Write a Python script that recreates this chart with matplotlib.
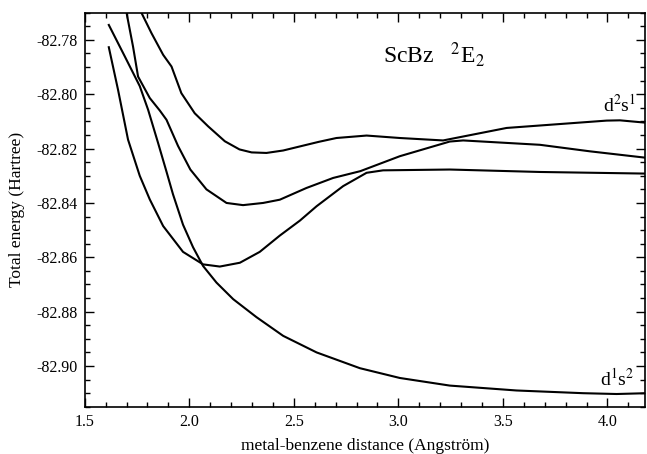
import matplotlib
matplotlib.use("Agg")
import matplotlib.pyplot as plt
from matplotlib.ticker import MultipleLocator, FormatStrFormatter

plt.rcParams['font.family'] = ['Liberation Serif', 'DejaVu Serif']
plt.rcParams['mathtext.fontset'] = 'stix'

# curve with the -82.863 minimum
p_x = [1.615, 1.659, 1.707, 1.763, 1.811, 1.875, 1.970, 2.066, 2.146, 2.242, 2.337,
       2.433, 2.529, 2.609, 2.736, 2.848, 2.927, 3.246, 3.677, 4.188]
p_y = [-82.7827, -82.7983, -82.8167, -82.830, -82.8387, -82.8485, -82.858, -82.8626,
       -82.8634, -82.862, -82.858, -82.852, -82.8465, -82.8412, -82.8338, -82.8289,
       -82.828, -82.8277, -82.8286, -82.8292]

# d1s2 curve (lowest at large distance)
q_x = [1.615, 1.691, 1.763, 1.803, 1.851, 1.891, 1.922, 1.970, 2.018, 2.066, 2.13,
       2.21, 2.321, 2.449, 2.609, 2.816, 3.007, 3.246, 3.565, 3.884, 4.044, 4.188]
q_y = [-82.7745, -82.786, -82.797, -82.8057, -82.818, -82.8285, -82.8368, -82.848,
       -82.8563, -82.8632, -82.8693, -82.8754, -82.882, -82.8889, -82.895, -82.9008,
       -82.9044, -82.9072, -82.909, -82.910, -82.9103, -82.910]

# curve with the -82.841 minimum
r_x = [1.697, 1.702, 1.731, 1.755, 1.811, 1.859, 1.891, 1.946, 2.005, 2.082, 2.178,
       2.257, 2.353, 2.433, 2.560, 2.688, 2.818, 3.007, 3.246, 3.31, 3.677, 3.916, 4.188]
r_y = [-82.768, -82.7709, -82.7825, -82.7935, -82.8014, -82.806, -82.8094, -82.819,
       -82.8277, -82.835, -82.840, -82.8408, -82.840, -82.8388, -82.8345, -82.8308,
       -82.8283, -82.8228, -82.8174, -82.817, -82.8186, -82.821, -82.8234]

# d2s1 curve
s_x = [1.768, 1.771, 1.819, 1.875, 1.915, 1.962, 2.026, 2.09, 2.17, 2.24, 2.298, 2.369,
       2.449, 2.529, 2.620, 2.704, 2.848, 3.007, 3.214, 3.518, 3.996, 4.06, 4.188]
s_y = [-82.769, -82.770, -82.7775, -82.7855, -82.7898, -82.7996, -82.807, -82.8118,
       -82.8173, -82.8203, -82.8214, -82.8216, -82.8207, -82.8192, -82.8175, -82.8161,
       -82.8152, -82.8161, -82.817, -82.8124, -82.8097, -82.8096, -82.8105]

fig = plt.figure(figsize=(6.47, 4.54), dpi=100)
ax = fig.add_axes([0.131, 0.104, 0.866, 0.868])

for xs, ys in [(p_x, p_y), (q_x, q_y), (r_x, r_y), (s_x, s_y)]:
    ax.plot(xs, ys, color='black', linewidth=1.5, solid_joinstyle='round')

ax.set_xlim(1.5, 4.18)
ax.set_ylim(-82.915, -82.770)

ax.xaxis.set_major_locator(MultipleLocator(0.5))
ax.xaxis.set_minor_locator(MultipleLocator(0.1))
ax.yaxis.set_major_locator(MultipleLocator(0.02))
ax.yaxis.set_minor_locator(MultipleLocator(0.005))
ax.xaxis.set_major_formatter(FormatStrFormatter('%.1f'))
ax.yaxis.set_major_formatter(FormatStrFormatter('%.2f'))

ax.tick_params(which='both', direction='in', top=True, right=True, labelsize=11.5)
ax.tick_params(which='major', length=6.5, width=1.0, pad=5)
ax.tick_params(which='minor', length=3.8, width=1.0)
for sp in ax.spines.values():
    sp.set_linewidth(1.2)

ax.set_xlabel('metal-benzene distance (Angström)', fontsize=12.5, labelpad=6)
ax.set_ylabel('Total energy (Hartree)', fontsize=12.5, labelpad=8)

ax.text(2.926, -82.7884, r'ScBz   $^2$E$_2$', fontsize=17)
ax.text(4.135, -82.8064, r'd$^2$s$^1$', fontsize=14, ha='right')
ax.text(4.13, -82.9070, r'd$^1$s$^2$', fontsize=14, ha='right')

fig.savefig('out.png', dpi=100)
